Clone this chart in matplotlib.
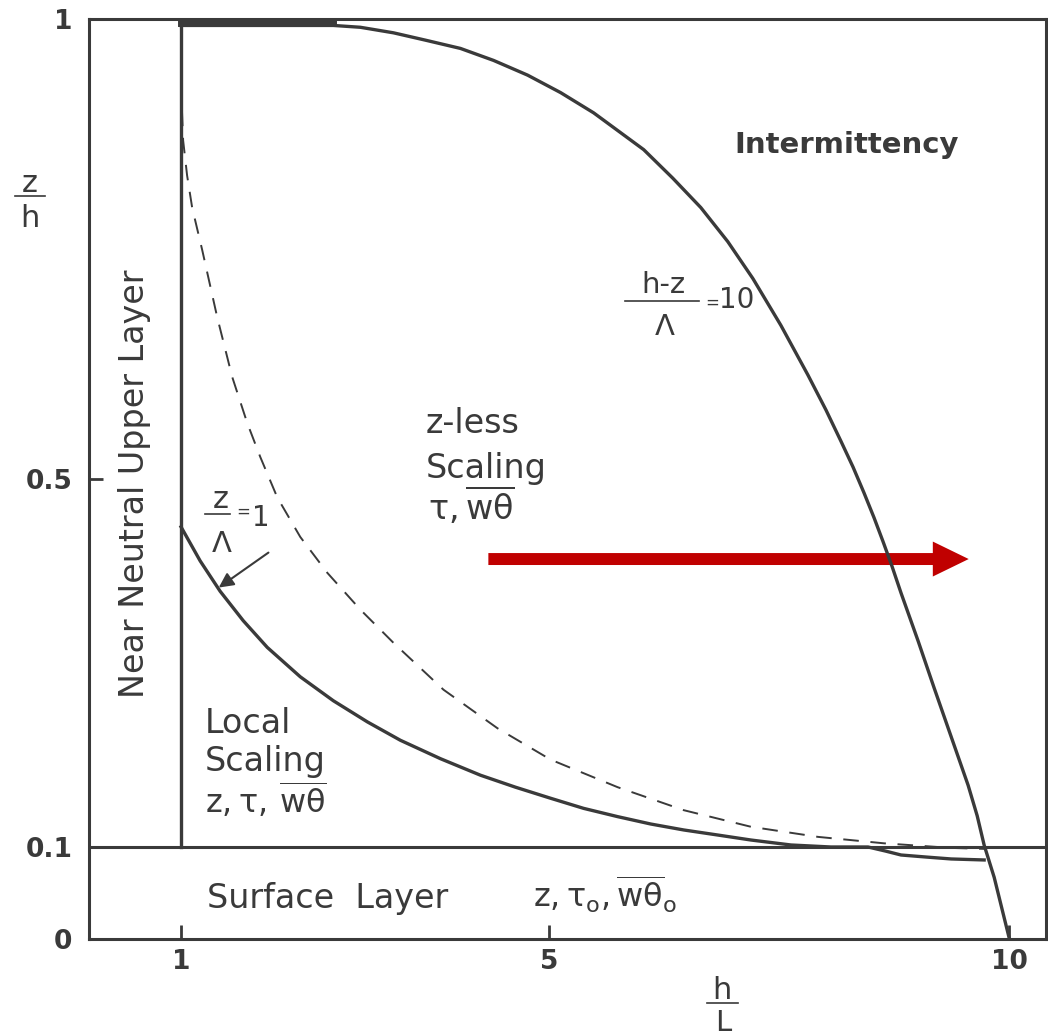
import matplotlib
matplotlib.use("Agg")
import matplotlib.pyplot as plt
from matplotlib.lines import Line2D

plt.rcParams['font.family'] = ['DejaVu Sans']
plt.rcParams['mathtext.fontset'] = 'custom'
plt.rcParams['mathtext.rm'] = 'DejaVu Sans'
plt.rcParams['mathtext.it'] = 'DejaVu Sans'
plt.rcParams['mathtext.bf'] = 'DejaVu Sans:bold'

INK = '#3a3a3a'

# h-z / Lambda = 10 (outer boundary)
outer_x = [1.0, 2.655, 2.949, 3.308, 3.656, 4.037, 4.396, 4.766, 5.125, 5.484,
           5.756, 6.028, 6.344, 6.649, 6.942, 7.214, 7.519, 7.813, 8.009, 8.172,
           8.303, 8.422, 8.531, 8.629, 8.727, 8.825, 9.010, 9.184, 9.369, 9.554,
           9.652, 9.728, 9.837, 10.0]
outer_y = [0.993, 0.993, 0.991, 0.985, 0.977, 0.968, 0.955, 0.939, 0.920, 0.898,
           0.878, 0.858, 0.827, 0.795, 0.758, 0.718, 0.667, 0.613, 0.575, 0.541,
           0.513, 0.485, 0.458, 0.432, 0.405, 0.376, 0.324, 0.273, 0.220, 0.167,
           0.134, 0.102, 0.067, 0.001]

# z / Lambda = 1
inner_x = [1.0, 1.208, 1.425, 1.676, 1.937, 2.296, 2.655, 3.025, 3.384, 3.819,
           4.255, 4.635, 5.016, 5.375, 5.745, 6.104, 6.464, 6.834, 7.193, 7.628,
           8.063, 8.466, 8.651, 8.825, 9.097, 9.369, 9.728]
inner_y = [0.448, 0.411, 0.378, 0.346, 0.317, 0.285, 0.259, 0.236, 0.216, 0.196,
           0.178, 0.165, 0.153, 0.142, 0.133, 0.125, 0.1185, 0.113, 0.1076, 0.1022,
           0.100, 0.100, 0.0957, 0.0913, 0.0891, 0.087, 0.0859]

# dashed curve
dashed_x = [1.0, 1.01, 1.023, 1.066, 1.121, 1.230, 1.393, 1.556, 1.719, 1.861,
            2.046, 2.296, 2.590, 2.949, 3.308, 3.852, 4.440, 5.016, 5.745, 6.464,
            7.193, 7.922, 8.640, 9.369, 9.728]
dashed_y = [0.93, 0.901, 0.868, 0.830, 0.795, 0.749, 0.676, 0.611, 0.561, 0.524,
            0.480, 0.437, 0.398, 0.358, 0.322, 0.271, 0.229, 0.195, 0.165, 0.140,
            0.122, 0.111, 0.104, 0.099, 0.098]

x_ticks = [1, 5, 10]
y_ticks = [0, 0.1, 0.5, 1]
y_labels = ['0', '0.1', '0.5', '1']

neutral_x = 1.0      # h/L = 1 boundary
surface_z = 0.1      # z/h = 0.1 boundary
red_arrow = (4.34, 9.56, 0.413)   # x start, x end, z/h

W, H = 1048, 1036
fig = plt.figure(figsize=(W / 100, H / 100), dpi=100)
fig.patch.set_facecolor('white')
ax = fig.add_axes([89 / W, 97 / H, (1046 - 89) / W, (939 - 19) / H])
ax.set_xlim(0, 10.4)
ax.set_ylim(0, 1)

for s in ax.spines.values():
    s.set_linewidth(2.2)
    s.set_color(INK)

ax.set_xticks(x_ticks)
ax.set_xticklabels([str(t) for t in x_ticks])
ax.set_yticks(y_ticks)
ax.set_yticklabels(y_labels)
ax.tick_params(direction='in', length=10, width=2, colors=INK,
               labelsize=19, labelcolor=INK)
ax.tick_params(axis='x', pad=7)
ax.tick_params(axis='y', pad=12)
for lab in ax.get_xticklabels() + ax.get_yticklabels():
    lab.set_fontweight('bold')

# boundaries
ax.axhline(surface_z, color=INK, lw=2.2)
ax.plot([neutral_x, neutral_x], [surface_z, 1], color=INK, lw=2.4)

ax.plot(outer_x, outer_y, color=INK, lw=2.4, solid_joinstyle='round')
ax.plot(outer_x[:2], [0.996, 0.996], color=INK, lw=5)
ax.plot(inner_x, inner_y, color=INK, lw=2.4, solid_joinstyle='round')
ax.plot(dashed_x, dashed_y, color=INK, lw=1.4, dashes=(8, 6))

# red arrow
x0, x1, ya = red_arrow
ax.arrow(x0, ya, x1 - x0, 0, width=0.013, head_width=0.038, head_length=0.39,
         length_includes_head=True, color='#c00000', lw=0)

# small arrow pointing to z/Lambda=1 curve
ax.annotate('', xy=(1.41, 0.382), xytext=(1.95, 0.420),
            arrowprops=dict(arrowstyle='-|>', color=INK, lw=1.5,
                            mutation_scale=22, shrinkA=0, shrinkB=0))

tk = dict(color=INK)
ax.text(8.23, 0.863, 'Intermittency', fontsize=21, fontweight='bold',
        ha='center', va='center', **tk)
ax.text(0.49, 0.495, 'Near Neutral Upper Layer', fontsize=24, rotation=90,
        ha='center', va='center', **tk)

ax.text(3.66, 0.550, 'z-less', fontsize=24, va='baseline', **tk)
ax.text(3.66, 0.501, 'Scaling', fontsize=24, va='baseline', **tk)
ax.text(3.68, 0.455, r'$\tau,\overline{w\theta}$', fontsize=24, va='baseline', **tk)

ax.text(1.26, 0.224, 'Local', fontsize=24, va='baseline', **tk)
ax.text(1.26, 0.183, 'Scaling', fontsize=24, va='baseline', **tk)
ax.text(1.26, 0.137, r'$z,\tau,\,\overline{w\theta}$', fontsize=23, va='baseline', **tk)

ax.text(1.28, 0.034, 'Surface  Layer', fontsize=24, va='baseline', **tk)
ax.text(4.82, 0.034, r'$z,\tau_o,\overline{w\theta}_o$', fontsize=23,
        va='baseline', **tk)

# fraction labels inside the axes
ax.text(6.24, 0.702, 'h-z', fontsize=21, ha='center', va='baseline', **tk)
ax.plot([5.83, 6.63], [0.694, 0.694], color=INK, lw=1.2)
ax.text(6.26, 0.657, r'$\Lambda$', fontsize=21, ha='center', va='baseline', **tk)
ax.text(6.70, 0.692, '=', fontsize=12, va='center', **tk)
ax.text(6.85, 0.686, '10', fontsize=20, va='baseline', **tk)

ax.text(1.43, 0.468, 'z', fontsize=22, ha='center', va='baseline', **tk)
ax.plot([1.26, 1.53], [0.462, 0.462], color=INK, lw=1.2)
ax.text(1.44, 0.421, r'$\Lambda$', fontsize=21, ha='center', va='baseline', **tk)
ax.text(1.60, 0.464, '=', fontsize=12, va='center', **tk)
ax.text(1.77, 0.449, '1', fontsize=20, va='baseline', **tk)

# axis titles as fractions
fig.text(30 / W, 1 - 192 / H, 'z', fontsize=22, ha='center', va='baseline', **tk)
fig.add_artist(Line2D([15 / W, 45 / W], [1 - 196 / H, 1 - 196 / H],
                      color=INK, lw=1.2))
fig.text(30 / W, 1 - 227 / H, 'h', fontsize=22, ha='center', va='baseline', **tk)

fig.text(722 / W, 1 - 999 / H, 'h', fontsize=22, ha='center', va='baseline', **tk)
fig.add_artist(Line2D([707 / W, 738 / W], [1 - 1003 / H, 1 - 1003 / H],
                      color=INK, lw=1.2))
fig.text(723 / W, 1 - 1031 / H, 'L', fontsize=21, ha='center', va='baseline', **tk)

fig.savefig('out.png', dpi=100, facecolor='white')
